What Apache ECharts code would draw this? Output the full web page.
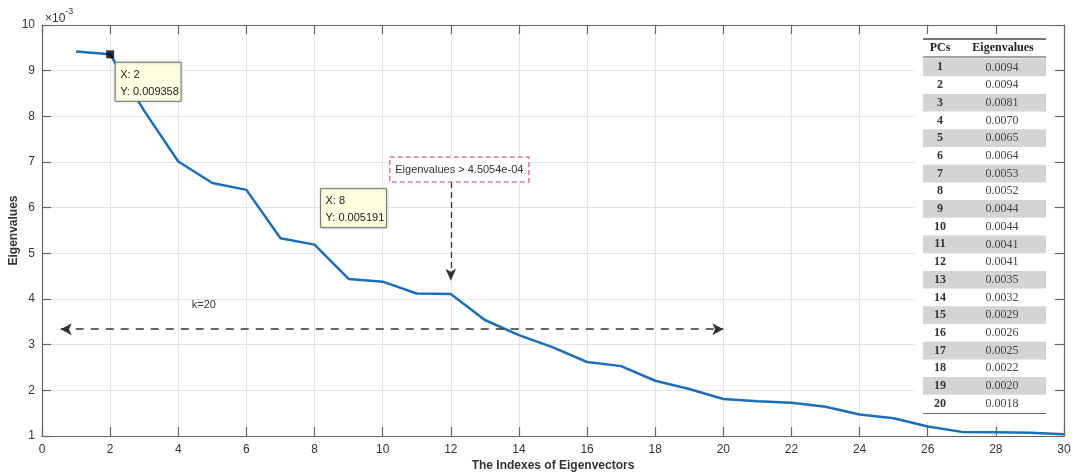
<!DOCTYPE html>
<html>
<head>
<meta charset="utf-8">
<script src="https://cdn.jsdelivr.net/npm/echarts@6/dist/echarts.min.js"></script>
<style>
	html, body { margin: 0; padding: 0; background: #fff; }
	#main { width: 1072px; height: 476px; }
</style>
</head>
<body>
<div id="main"></div>
<script>
// eigenvalues, in units of 1e-3
var pcIndex = [1, 2, 3, 4, 5, 6, 7, 8, 9, 10, 11, 12, 13, 14, 15, 16, 17, 18, 19, 20,
	21, 22, 23, 24, 25, 26, 27, 28, 29, 30];
var eigenVals = [9.42, 9.358, 8.12, 7.01, 6.54, 6.39, 5.33, 5.191, 4.44, 4.38, 4.12, 4.11,
	3.54, 3.21, 2.94, 2.62, 2.53, 2.21, 2.03, 1.81,
	1.76, 1.73, 1.64, 1.47, 1.39, 1.21, 1.09, 1.08, 1.07, 1.04];
var tableRows = 20;
var kValue = 20;
var tipIdx = [2, 8];   // datatips at X = 2 and X = 8
var thresholdText = 'Eigenvalues > 4.5054e-04';

var font = 'Liberation Sans, Arial, sans-serif';
var serif = 'Liberation Serif, Times New Roman, serif';
var axisColor = '#666';

var lineData = [];
for (var i = 0; i < pcIndex.length; i++) {
	lineData.push([pcIndex[i], eigenVals[i]]);
}

let mychart = echarts.init(document.getElementById('main'));

function baseX(pos, z) {
	return {
		type: 'value', min: 0, max: 30, interval: 2, position: pos,
		axisLine: { show: true, onZero: false, lineStyle: { color: axisColor, width: 1.2 } },
		axisTick: { show: true, inside: true, length: 9, lineStyle: { color: axisColor, width: 1.2 } },
		z: z
	};
}
function baseY(pos, z) {
	return {
		type: 'value', min: 1, max: 10, interval: 1, position: pos,
		axisLine: { show: true, onZero: false, lineStyle: { color: axisColor, width: 1.2 } },
		axisTick: { show: true, inside: true, length: 9, lineStyle: { color: axisColor, width: 1.2 } },
		z: z
	};
}

var xBottom = baseX('bottom', 0);
xBottom.axisLabel = { color: '#333', fontSize: 12, fontFamily: font, margin: 8 };
xBottom.splitLine = { show: true, lineStyle: { color: '#e4e4e4', width: 1 } };
xBottom.name = 'The Indexes of Eigenvectors';
xBottom.nameLocation = 'middle';
xBottom.nameGap = 24;
xBottom.nameMoveOverlap = false;
xBottom.nameTextStyle = { color: '#333', fontSize: 12, fontWeight: 'bold', fontFamily: font };
var xTop = baseX('top', 5);
xTop.axisLabel = { show: false };
xTop.splitLine = { show: false };

var yLeft = baseY('left', 0);
yLeft.axisLabel = { color: '#333', fontSize: 12, fontFamily: font, margin: 7 };
yLeft.splitLine = { show: true, lineStyle: { color: '#e4e4e4', width: 1 } };
yLeft.name = 'Eigenvalues';
yLeft.nameLocation = 'middle';
yLeft.nameGap = 22;
yLeft.nameMoveOverlap = false;
yLeft.nameTextStyle = { color: '#333', fontSize: 12, fontWeight: 'bold', fontFamily: font };
var yRight = baseY('right', 5);
yRight.axisLabel = { show: false };
yRight.splitLine = { show: false };

let option = {
	animation: false,
	grid: { left: 42, right: 8, top: 25, bottom: 40, outerBoundsMode: 'none', containLabel: false },
	xAxis: [xBottom, xTop],
	yAxis: [yLeft, yRight],
	series: [{
			type: 'line',
			data: lineData,
			showSymbol: false,
			lineStyle: { color: '#1b6fb8', width: 2.5 },
			z: 3,
			markLine: {
				silent: true,
				label: { show: false },
				data: [
					[{ coord: [0.55, 3.34], symbol: 'arrow', symbolSize: [9, 11],
						lineStyle: { color: '#333', width: 1.6, type: [8, 7] } },
					 { coord: [kValue, 3.34], symbol: 'arrow', symbolSize: [9, 11] }],
					[{ coord: [12, 6.56], symbol: 'none',
						lineStyle: { color: '#333', width: 1.3, type: [6, 4] } },
					 { coord: [12, 4.4], symbol: 'arrow', symbolSize: [8, 12] }]
				]
			}
		},
		{ // datatip marker
			type: 'scatter',
			data: [[tipIdx[0], eigenVals[tipIdx[0] - 1]]],
			symbol: 'rect',
			symbolSize: 8,
			itemStyle: { color: '#000' },
			z: 6
		}
	]
};
mychart.setOption(option);

// annotations and the little table
var g = [];
function px(x, y) { return mychart.convertToPixel({ xAxisIndex: 0, yAxisIndex: 0 }, [x, y]); }

function dataTip(idx, dx, dy) {
	var p = px(idx, eigenVals[idx - 1]);
	g.push({
		type: 'rect', z: 20,
		shape: { x: p[0] + dx, y: p[1] + dy, width: 66, height: 39 },
		style: { fill: '#ffffe1', stroke: '#777', lineWidth: 1, shadowBlur: 3, shadowColor: 'rgba(0,0,0,0.25)' }
	});
	g.push({
		type: 'text', z: 21,
		x: p[0] + dx + 5, y: p[1] + dy + 4,
		style: {
			text: 'X: ' + idx + '\nY: ' + (eigenVals[idx - 1] / 1000).toFixed(6),
			font: '11px ' + font, fill: '#222', lineHeight: 17
		}
	});
}
dataTip(tipIdx[0], 5, 8);
dataTip(tipIdx[1], 6, -56);

// threshold box
var tb = px(12, 6.56);
g.push({
	type: 'rect', z: 20,
	shape: { x: tb[0] - 61, y: tb[1] - 25, width: 139, height: 25 },
	style: { fill: '#fff', stroke: '#e0607a', lineWidth: 1.3, lineDash: [5, 3] }
});
g.push({
	type: 'text', z: 21,
	x: tb[0] + 8.5, y: tb[1] - 12.5,
	style: { text: thresholdText, font: '11px ' + font, fill: '#333', align: 'center', verticalAlign: 'middle' }
});

// k label
var kp = px(4.75, 3.87);
g.push({
	type: 'text', z: 21, x: kp[0], y: kp[1],
	style: { text: 'k=' + kValue, font: '11px ' + font, fill: '#333', align: 'center', verticalAlign: 'middle' }
});

// x10^-3 exponent
g.push({
	type: 'text', z: 21, x: 45, y: 7,
	style: {
		text: '{a|×10}{b|-3}',
		rich: {
			a: { font: '12px ' + font, fill: '#333', padding: [6, 0, 0, 0] },
			b: { font: '9px ' + font, fill: '#333', verticalAlign: 'top', padding: [0, 0, 6, 0] }
		}
	}
});

// table of first 20 eigenvalues
var tLeft = 923, tRight = 1046, tTop = 39, rowH = 17.7, firstRow = 58.5;
var cPC = 940, cVal = 1002;
g.push({
	type: 'rect', z: 1,
	shape: { x: 915, y: 28, width: 138, height: 393 },
	style: { fill: '#fff' }
});
g.push({ type: 'line', z: 11, shape: { x1: tLeft, y1: tTop, x2: tRight, y2: tTop }, style: { stroke: '#444', lineWidth: 1.5 } });
g.push({ type: 'line', z: 11, shape: { x1: tLeft, y1: 57, x2: tRight, y2: 57 }, style: { stroke: '#444', lineWidth: 1.2 } });
g.push({ type: 'text', z: 12, x: cPC, y: 48,
	style: { text: 'PCs', font: 'bold 12px ' + serif, fill: '#222', align: 'center', verticalAlign: 'middle' } });
g.push({ type: 'text', z: 12, x: cVal + 1, y: 48,
	style: { text: 'Eigenvalues', font: 'bold 12px ' + serif, fill: '#222', align: 'center', verticalAlign: 'middle' } });
for (var r = 0; r < tableRows; r++) {
	var ry = firstRow + r * rowH;
	if (r % 2 === 0) {
		g.push({ type: 'rect', z: 11, shape: { x: tLeft, y: ry, width: tRight - tLeft, height: rowH },
			style: { fill: '#d4d4d4' } });
	}
	g.push({ type: 'text', z: 12, x: cPC, y: ry + rowH / 2,
		style: { text: String(pcIndex[r]), font: 'bold 12px ' + serif, fill: '#333', align: 'center', verticalAlign: 'middle' } });
	g.push({ type: 'text', z: 12, x: cVal, y: ry + rowH / 2,
		style: { text: (eigenVals[r] / 1000).toFixed(4), font: '12px ' + serif, fill: '#444', align: 'center', verticalAlign: 'middle' } });
}
var bottomY = firstRow + tableRows * rowH + 1;
g.push({ type: 'line', z: 11, shape: { x1: tLeft, y1: bottomY, x2: tRight, y2: bottomY }, style: { stroke: '#666', lineWidth: 1.2 } });

mychart.setOption({ graphic: { elements: g } });
</script>
</body>
</html>
